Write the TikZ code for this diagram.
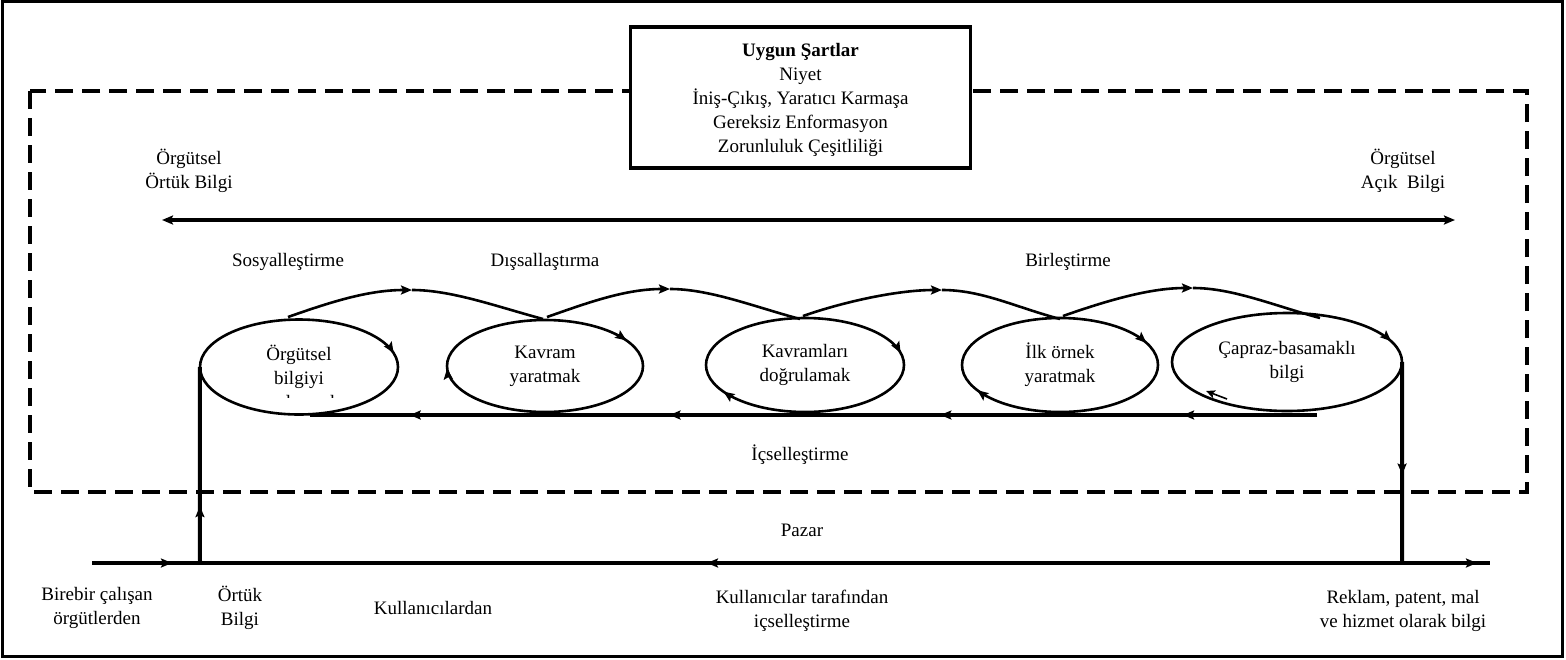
\documentclass[tikz,border=0pt]{standalone}
\usepackage{fontspec}
\setmainfont{Liberation Serif}
\usetikzlibrary{arrows.meta,decorations.markings,shapes.geometric}

\begin{document}
\begin{tikzpicture}[x=1pt,y=-1pt,
  txt/.style={font=\fontsize{19}{24}\selectfont, align=center, inner sep=0pt},
  ring/.style={line width=2.6pt},
  flow/.style={line width=2.6pt},
  heavy/.style={line width=4pt},
  head/.tip={Stealth[length=11pt,width=9pt,inset=2pt]},
  arrat/.style={postaction={decorate,decoration={markings,
      mark=at position #1 with {\arrow{head}}}}},
  arrback/.style={postaction={decorate,decoration={markings,
      mark=at position #1 with {\arrowreversed{head}}}}},
  spot/.style={ellipse, inner sep=0pt, align=center,
      font=\fontsize{19}{24}\selectfont},
]
\useasboundingbox (0,0) rectangle (1566,659);

% frame and the dashed organisation boundary
\draw[line width=3pt] (2.5,1.5) rectangle (1562,656);
\draw[line width=3.5pt, dash pattern=on 18pt off 9pt] (30,91) rectangle (1527,492);

% enabling conditions
\node[draw, line width=3.5pt, fill=white, minimum width=340pt,
      minimum height=141pt] (cond) at (800.5,97.5) {};
\node[txt] (condtext) at (800.5,100)
  {\textbf{Uygun Şartlar}\\Niyet\\İniş-Çıkış, Yaratıcı Karmaşa\\Gereksiz Enformasyon\\Zorunluluk Çeşitliliği};

% tacit / explicit axis
\node[txt] (tacit) at (189,171) {Örgütsel\\Örtük Bilgi};
\node[txt] (explicit) at (1403,171) {Örgütsel\\Açık\ \ Bilgi};
\coordinate (axl) at (162,220);
\coordinate (axr) at (1455,220);
\draw[heavy, {head}-{head}] (axl) -- (axr);

% mode labels
\node[txt] (soc) at (288,262) {Sosyalleştirme};
\node[txt] (ext) at (545,262) {Dışsallaştırma};
\node[txt] (comb) at (1068,262) {Birleştirme};
\node[txt] (intl) at (800,455) {İçselleştirme};

% the five phases
\node[spot, minimum width=198pt, minimum height=95pt] (e1) at (299,367) {Örgütsel\\bilgiyi};
\node[spot, minimum width=196pt, minimum height=92pt] (e2) at (545,366) {Kavram\\yaratmak};
\node[spot, minimum width=198pt, minimum height=94pt] (e3) at (805,365) {Kavramları\\doğrulamak};
\node[spot, minimum width=196pt, minimum height=94pt] (e4) at (1060,365) {İlk örnek\\yaratmak};
\node[spot, minimum width=230pt, minimum height=98pt] (e5) at (1287,362) {Çapraz-basamaklı\\bilgi};

% third line of the first phase, cut off by the ellipse
\begin{scope}
  \clip (250,392.5) rectangle (350,397.5);
  \node[txt, anchor=base] (e1more) at (299,408.5) {paylaşmak};
\end{scope}

\draw[ring, arrat=0.969] (e1.center) ellipse [x radius=99, y radius=47.5];
\draw[ring, arrat=0.495, arrat=0.932] (e2.center) ellipse [x radius=98, y radius=46];
\draw[ring, arrat=0.43, arrat=0.973] (e3.center) ellipse [x radius=99, y radius=47];
\draw[ring, arrat=0.435, arrat=0.945] (e4.center) ellipse [x radius=98, y radius=47];
\draw[ring, arrat=0.955] (e5.center) ellipse [x radius=115, y radius=49];

% short inner arrow of the last phase
\coordinate (i5a) at (1227,399);
\coordinate (i5b) at (1206,391);
\draw[line width=1.6pt, -{Stealth[length=9pt,width=8pt,inset=2pt]}] (i5a) -- (i5b);

% spiral arcs between the phases
\coordinate (c1s) at (288,317);  \coordinate (c1p) at (412,290);  \coordinate (c1e) at (543,319);
\coordinate (c2s) at (547,317);  \coordinate (c2p) at (670,289);  \coordinate (c2e) at (800,319);
\coordinate (c3s) at (803,316);  \coordinate (c3p) at (942,290);  \coordinate (c3e) at (1060,319);
\coordinate (c4s) at (1063,316); \coordinate (c4p) at (1193,288); \coordinate (c4e) at (1320,318);
\foreach \k in {1,2,3,4}{
  \draw[flow, -{head}] (c\k s) .. controls ([shift={(40,-14)}]c\k s) and ([shift={(-45,0)}]c\k p) .. (c\k p);
  \draw[flow] (c\k p) .. controls ([shift={(40,0)}]c\k p) and ([shift={(-45,-12)}]c\k e) .. (c\k e);
}

% internalisation return line
\coordinate (rr) at (1317,415);
\coordinate (rl) at (310,415);
\draw[heavy, arrat=0.133, arrat=0.374, arrat=0.643, arrat=0.901] (rr) -- (rl);

% market line
\coordinate (ml) at (92,563);
\coordinate (mr) at (1490,563);
\draw[heavy, arrat=0.0572, arrback=0.4399, arrat=0.9907] (ml) -- (mr);

\coordinate (lfoot) at (200,563);
\coordinate (rfoot) at (1402,563);
\draw[heavy, arrat=0.29] (lfoot) -- (e1.west);
\draw[heavy, arrat=0.56] (e5.east) -- (rfoot);

\node[txt] (market) at (802,530) {Pazar};
\node[txt] (src) at (97,608) {Birebir çalışan\\örgütlerden};
\node[txt] (tacitb) at (240,608) {Örtük\\Bilgi};
\node[txt] (users) at (433,608) {Kullanıcılardan};
\node[txt] (byusers) at (802,611) {Kullanıcılar tarafından\\içselleştirme};
\node[txt] (out) at (1403,611) {Reklam, patent, mal\\ve hizmet olarak bilgi};
\end{tikzpicture}
\end{document}
